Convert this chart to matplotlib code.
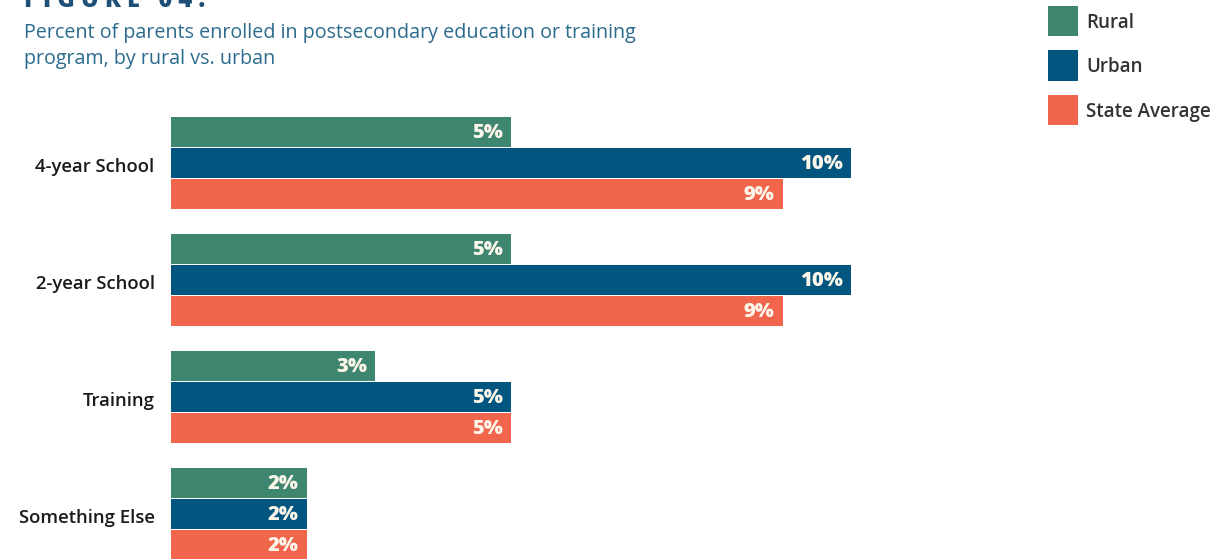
import matplotlib
matplotlib.use("Agg")
from matplotlib import pyplot as plt
from matplotlib.patches import Rectangle

categories = ["4-year School", "2-year School", "Training", "Something Else"]
series = ["Rural", "Urban", "State Average"]
rural = [5, 5, 3, 2]
urban = [10, 10, 5, 2]
state = [9, 9, 5, 2]
colors = ["#3e8670", "#02557f", "#f0654b"]

plt.rcParams['font.family'] = ['Open Sans', 'DejaVu Sans']

W, H = 1224, 559
fig = plt.figure(figsize=(W / 100, H / 100), dpi=100)

# axes: left edge at x=171 px, 68 px per percent, spans full height
ax = fig.add_axes([171 / W, 0, 1020 / W, 1])
ax.set_xlim(0, 15)
ax.set_ylim((H - 163) / 117, -163 / 117)
ax.axis("off")

bar_h = 30 / 117
step = 31 / 117
for j, (name, vals) in enumerate(zip(series, [rural, urban, state])):
    for i, v in enumerate(vals):
        y = i + (j - 1) * step
        ax.barh(y, v, height=bar_h, color=colors[j], linewidth=0)
        ax.text(v - 0.12, y + 0.005, f"{v}%", ha="right", va="center", color="#fdf6ea",
                fontsize=14.5, fontweight="heavy")

for i, c in enumerate(categories):
    ax.text(-0.24, i + 0.035, c, ha="right", va="center", fontsize=13.3,
            fontweight="semibold", color="#1a1a1a")

# title and subtitle
fig.text(24 / W, 1 - 7 / H, "F I G U R E   0 4 :", ha="left", va="baseline",
         fontsize=17, fontweight="heavy", color="#1d4f78")
fig.text(24 / W, 1 - 38 / H, "Percent of parents enrolled in postsecondary education or training",
         ha="left", va="baseline", fontsize=14.2, color="#2b6b8e")
fig.text(24 / W, 1 - 64 / H, "program, by rural vs. urban",
         ha="left", va="baseline", fontsize=14.2, color="#2b6b8e")

# legend
for j, name in enumerate(series):
    top = 6 + j * 44.5
    fig.patches.append(Rectangle((1048 / W, 1 - (top + 30) / H), 30 / W, 30 / H,
                                 transform=fig.transFigure, color=colors[j], linewidth=0))
    fig.text(1086 / W, 1 - (top + 17) / H, name, ha="left", va="center",
             fontsize=13.5, fontweight="semibold", color="#333333")

fig.savefig("out.png", dpi=100)
